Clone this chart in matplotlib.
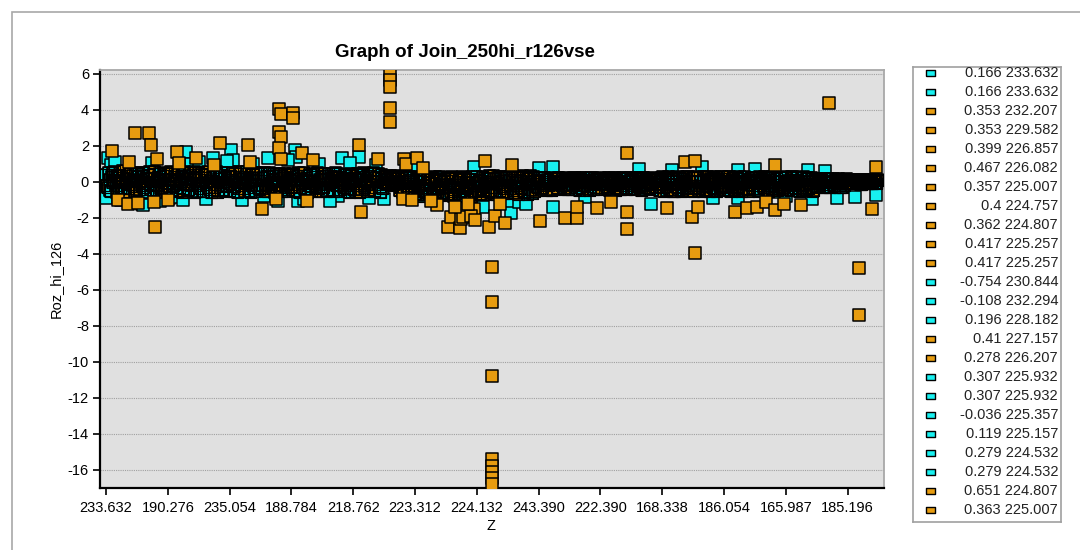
import numpy as np
import matplotlib.pyplot as plt
from matplotlib.patches import Rectangle

plt.rcParams['font.family'] = ['Liberation Sans', 'DejaVu Sans']
plt.rcParams['axes.unicode_minus'] = False

title = 'Graph of Join_250hi_r126vse'
x_label = 'Z'
y_label = 'Roz_hi_126'

# Z of every 80th record, used as x tick labels
tick_step = 80
z_ticks = ['233.632', '190.276', '235.054', '188.784', '218.762', '223.312', '224.132',
           '243.390', '222.390', '168.338', '186.054', '165.987', '185.196']

# dense band of records: even record numbers ...
cloud_even = [
    0.42, -0.31, 0.15, -0.52, 0.55, 0.08, -0.18, 0.37, -0.44, 0.26, -0.05, 0.61, -0.36, 0.19, -0.58, 0.47, -0.12, 0.33, -0.27, 0.02,
    -0.49, 0.51, 0.11, -0.22, 0.38, -0.57, 0.24, -0.08, 0.58, -0.39, 0.05, 0.44, -0.15, -0.53, 0.29, 0.13, -0.33, 0.52, -0.02, -0.46,
    0.35, -0.25, 0.56, -0.41, 0.09, 0.21, -0.55, 0.46, -0.11, 0.31, -0.37, 0.6, 0.01, -0.48, 0.18, -0.2, 0.41, -0.6, 0.27, -0.07,
    0.5, -0.34, 0.14, -0.51, 0.39, -0.14, 0.57, -0.43, 0.06, 0.28, -0.29, 0.45, -0.56, 0.17, -0.03, 0.53, -0.4, 0.23, -0.19, 0.36,
    -0.47, 0.12, 0.55, -0.26, 0.32, -0.58, 0.03, 0.48, -0.35, 0.2, -0.1, 0.59, -0.45, 0.25, -0.16, 0.4, -0.54, 0.1, 0.5, -0.3,
    0.44, -0.21, 0.07, -0.5, 0.3, -0.38, 0.52, -0.06, 0.19, -0.57, 0.37, -0.13, 0.49, -0.42, 0.02, 0.26, -0.3, 0.41, -0.52, 0.13,
    -0.24, 0.47, -0.45, 0.09, 0.33, -0.56, 0.21, -0.09, 0.5, -0.36, 0.15, -0.2, 0.43, -0.48, 0.04, 0.28, -0.32, 0.51, -0.14, -0.53,
    0.38, -0.27, 0.12, -0.47, 0.46, -0.02, 0.24, -0.54, 0.31, -0.16, 0.49, -0.4, 0.06, 0.2, -0.33, 0.42, -0.51, 0.1, -0.08, 0.34,
    -0.44, 0.27, -0.19, 0.48, -0.58, 0.16, 0.39, -0.3, 0.01, 0.45, -0.41, 0.22, -0.12, 0.5, -0.5, 0.08, 0.32, -0.25, 0.43, -0.36,
    0.3, -0.1, 0.18, -0.15, 0.36, 0.05, -0.12, 0.26, 0.1, -0.05, -0.45, 0.22, -0.6, 0.05, 0.3, -0.35, -0.1, 0.15, -0.55, 0.28,
    -0.62, 0.2, -0.35, 0.05, -0.78, 0.28, -0.2, -0.5, 0.12, -0.7, -0.05, 0.25, -0.42, -0.8, 0.1, -0.28, 0.3, -0.58, -0.12, 0.18,
    -0.74, 0.22, -0.3, -0.55, 0.08, -0.8, 0.27, -0.15, -0.65, 0.15, -0.45, 0.3, -0.78, -0.02, -0.36, 0.2, -0.6, 0.04, -0.22, -0.7,
    0.32, -0.52, 0.1, -0.25, -0.68, 0.25, -0.08, -0.45, 0.35, -0.6, 0.02, -0.32, 0.18, -0.7, -0.15, 0.28, -0.5, 0.06, -0.38, 0.22,
    -0.62, 0.15, -0.2, 0.33, -0.48, -0.05, 0.24, -0.7, 0.08, -0.34, 0.3, -0.58, -0.12, 0.2, -0.42, 0.35, -0.66, 0.0, -0.26, 0.12,
    0.22, -0.35, 0.05, -0.18, 0.25, -0.45, 0.12, -0.08, 0.2, -0.4, -0.02, 0.18, -0.28, 0.24, -0.15, 0.0, -0.42, 0.15, -0.22, 0.08,
    -0.3, 0.2, -0.12, 0.25, -0.44, 0.06, -0.2, 0.16, -0.36, 0.24, -0.04, -0.26, 0.1, -0.45, 0.22, -0.1, 0.02, -0.33, 0.18, -0.16,
    0.14, -0.4, 0.24, -0.06, -0.25, 0.2, -0.45, 0.08, -0.15, 0.25, -0.32, 0.0, 0.17, -0.42, -0.1, 0.22, -0.28, 0.1, -0.38, 0.04,
    -0.22, 0.25, -0.44, 0.05, 0.18, -0.3, -0.05, 0.23, -0.4, 0.12, -0.14, 0.2, -0.35, 0.0, 0.24, -0.26, -0.08, 0.15, -0.45, 0.1,
    0.28, -0.5, 0.05, -0.24, 0.3, -0.4, -0.1, 0.18, -0.55, 0.1, -0.3, 0.25, -0.15, -0.48, 0.2, -0.02, -0.36, 0.3, -0.2, 0.02,
    -0.52, 0.22, -0.18, 0.3, -0.38, 0.0, -0.55, 0.15, -0.26, 0.28, -0.45, 0.08, -0.1, 0.24, -0.34, -0.5, 0.12, -0.2, 0.3, -0.42,
    0.18, -0.3, 0.28, -0.48, 0.02, -0.15, 0.25, -0.4, 0.1, -0.25, 0.3, -0.5, -0.05, 0.2, -0.35, 0.12, -0.44, 0.05, -0.2, 0.26,
    -0.38, 0.15, -0.5, 0.28, -0.1, 0.05, -0.3, 0.22, -0.45, 0.12, -0.22, 0.3, -0.48, 0.0, 0.18, -0.35, 0.25, -0.12, -0.42, 0.08,
    0.24, -0.28, 0.1, -0.45, 0.3, -0.15, -0.38, 0.15, 0.02, -0.5, 0.22, -0.22, 0.06, -0.4, 0.27, -0.08, -0.32, 0.18, -0.46, 0.12,
    -0.25, 0.15, -0.05, 0.2, -0.3, 0.05, -0.15, 0.18, -0.28, 0.1, -0.02, -0.22, 0.16, -0.1, 0.2, -0.3, 0.0, 0.12, -0.18, 0.06,
    0.1, -0.08, 0.14, 0.0, -0.1, 0.08, 0.15, -0.05, 0.04, -0.12, 0.12, 0.02, -0.06, 0.1, -0.02, 0.14, -0.08, 0.06, 0.0, 0.1,
]

# ... and odd record numbers
cloud_odd = [
    -0.2, 0.5, -0.45, 0.3, -0.05, 0.58, -0.6, 0.12, 0.4, -0.28, 0.22, -0.5, 0.0, 0.36, -0.38, 0.55, -0.15, 0.07, -0.55, 0.45,
    0.3, -0.42, 0.02, 0.55, -0.3, 0.18, -0.6, 0.4, -0.12, 0.26, -0.48, 0.6, -0.22, 0.1, 0.48, -0.36, 0.2, -0.56, 0.34, -0.06,
    -0.5, 0.15, 0.44, -0.18, 0.28, -0.45, 0.55, -0.3, 0.04, -0.58, 0.38, -0.08, 0.22, -0.4, 0.5, -0.15, 0.12, 0.58, -0.52, 0.3,
    -0.2, 0.4, -0.55, 0.25, -0.02, 0.48, -0.32, 0.1, -0.6, 0.35, -0.12, 0.56, -0.45, 0.2, 0.42, -0.26, 0.05, -0.5, 0.3, -0.1,
    0.35, -0.15, -0.52, 0.45, 0.0, -0.35, 0.58, -0.22, 0.18, -0.5, 0.3, -0.05, 0.44, -0.6, 0.12, -0.3, 0.52, -0.18, 0.24, -0.42,
    -0.35, 0.25, 0.5, -0.12, -0.55, 0.35, -0.25, 0.15, 0.45, -0.45, 0.05, -0.2, 0.38, -0.52, 0.22, 0.48, -0.08, -0.4, 0.3, -0.28,
    0.4, -0.15, 0.2, -0.5, 0.52, -0.3, 0.0, 0.35, -0.42, 0.25, -0.58, 0.1, -0.25, 0.45, -0.1, -0.55, 0.3, -0.35, 0.15, 0.48,
    -0.3, 0.45, -0.55, 0.2, -0.12, 0.35, -0.4, 0.05, 0.5, -0.22, 0.28, -0.5, 0.15, -0.05, 0.4, -0.35, 0.22, -0.58, 0.48, -0.18,
    0.2, -0.52, 0.42, -0.08, 0.3, -0.4, 0.5, -0.2, 0.12, -0.55, 0.35, -0.3, 0.05, -0.45, 0.25, -0.15, 0.45, -0.58, 0.18, 0.0,
    0.15, 0.35, -0.05, 0.25, -0.18, 0.3, 0.0, -0.1, 0.38, 0.2, -0.3, 0.1, -0.5, 0.25, -0.2, -0.6, 0.3, -0.4, 0.0, -0.25,
    0.1, -0.5, 0.25, -0.72, -0.15, 0.3, -0.6, -0.3, 0.0, -0.45, 0.2, -0.75, -0.1, 0.28, -0.55, -0.35, 0.15, -0.68, 0.05, -0.25,
    0.1, -0.62, -0.1, 0.28, -0.4, -0.7, 0.18, -0.25, -0.5, 0.0, -0.78, 0.24, -0.32, -0.58, 0.12, -0.2, -0.8, 0.3, -0.45, -0.05,
    -0.2, 0.15, -0.62, 0.3, -0.4, -0.1, 0.2, -0.55, 0.05, -0.3, 0.34, -0.68, -0.05, 0.25, -0.45, 0.1, -0.25, -0.62, 0.3, -0.12,
    0.25, -0.35, 0.05, -0.6, 0.3, -0.18, -0.45, 0.15, -0.28, 0.34, -0.52, 0.02, -0.7, 0.22, -0.1, -0.4, 0.28, -0.55, 0.08, -0.32,
    -0.1, 0.15, -0.3, 0.25, -0.4, 0.05, -0.22, 0.2, -0.45, 0.1, -0.12, 0.24, -0.35, 0.02, -0.2, 0.22, -0.3, 0.06, -0.44, 0.18,
    0.12, -0.4, 0.22, -0.05, -0.3, 0.18, -0.45, 0.02, 0.25, -0.2, 0.1, -0.38, 0.15, -0.14, 0.24, -0.42, -0.02, 0.2, -0.28, 0.05,
    -0.3, 0.1, -0.15, 0.2, -0.38, 0.25, 0.0, -0.22, 0.12, -0.45, 0.18, -0.08, -0.35, 0.24, -0.18, 0.04, -0.44, 0.2, -0.1, 0.25,
    0.15, -0.38, 0.22, -0.12, -0.25, 0.08, -0.45, 0.25, -0.2, 0.02, -0.32, 0.18, -0.1, -0.42, 0.12, 0.2, -0.3, 0.05, -0.16, 0.24,
    -0.3, 0.2, -0.45, 0.12, -0.15, 0.25, -0.52, 0.0, -0.25, 0.3, -0.4, 0.08, -0.55, 0.2, -0.1, 0.28, -0.45, 0.1, -0.3, 0.22,
    0.1, -0.3, 0.25, -0.48, 0.05, -0.2, 0.3, -0.4, 0.15, -0.1, -0.55, 0.2, -0.32, 0.02, 0.28, -0.45, -0.05, 0.18, -0.25, 0.06,
    -0.4, 0.1, -0.2, 0.3, -0.5, 0.15, -0.3, 0.05, 0.25, -0.45, -0.1, 0.2, -0.35, 0.28, -0.15, -0.5, 0.1, 0.22, -0.38, -0.05,
    0.25, -0.2, 0.08, -0.45, 0.2, -0.32, 0.3, -0.05, -0.5, 0.15, -0.38, 0.05, 0.26, -0.25, -0.45, 0.1, -0.15, 0.3, -0.3, 0.0,
    -0.4, 0.05, -0.2, 0.28, -0.48, 0.12, -0.1, 0.25, -0.3, 0.08, -0.45, 0.3, -0.15, 0.18, -0.35, 0.0, 0.22, -0.5, 0.1, -0.25,
    0.1, -0.2, 0.2, -0.32, 0.02, -0.12, 0.18, -0.25, 0.08, -0.05, 0.2, -0.3, 0.0, 0.15, -0.22, 0.05, -0.28, 0.12, -0.08, 0.18,
    -0.05, 0.12, -0.1, 0.06, 0.15, -0.08, 0.02, 0.1, -0.12, 0.14, -0.04, 0.08, 0.12, -0.1, 0.04, -0.06, 0.15, 0.0, -0.08, 0.12,
]

# class of each band record: c = cyan, o = orange
colors_even = ''.join("""
cocco ococc oocoo ccoco
occoc coocc ococo cocoo
coocc ococo ccooc occoc
ococo coocc ocooc cocco
cocoo ccoco occoc ocooc
occoc ocooc coocc ococo
coooc cocoo cocco oocco
ococc oocoo cocoo ccooc
cocoo coocc ococo coocc
oocoo coocc oocoo ocooc
ocooc oocoo cooco ocooc
oocoo cocoo occoo cooco
cooco ococo ocooc cocoo
ocooc coocc ooccc occoc
coocc ococo ccooc coocc
occoc cocco ocooc coccc
cocoo cocco ocooc cocco
occoc cocco coocc ococo
cooco ocooc coocc ocooc
oocoo cocoo cooco ocooc
cocoo cooco occoo cocoo
ocooc coooc ocooc coocc
cocoo ccooc occoc cocoo
ccocc ococc ocooc cocco
cocco cocco ccocc ococc
""".split())

colors_odd = ''.join("""
occoc cocco ococc oocoo
cooco occoc coocc ococo
ococc oocoo cocco ococo
coocc ococo ocooc cocoo
occoc cocoo ccoco oocco
cocoo ccoco occoc ocooc
occoc ococo coocc oocoo
cocco ccooc ocooc cocoo
occoc ococo ccooc oocco
cooco oocoo coooc ocooc
oocoo coooc ocooo cooco
ocooc oocoo coocc ooooc
oocco cooco ocooc oocoo
cocco occoo cocoo coocc
occoc cocco coocc ococo
coocc ococo occoc ccocc
occoc coocc ococo cocco
coocc ococo ccooc coocc
occoc ooccc ocooc cocco
cocoo coocc oocoo cooco
occoc oocoo coocc ococo
cocco occoo cocco oocoo
occoc cocco ocooc cocoo
cocco cocoo ccocc ococc
ccocc ococc cocco cocco
""".split())

# records standing out of the band (record number, value)
cyan_idx = [2, 6, 0, 20, 46, 48, 82, 88, 104, 110, 138, 162, 164, 210, 204, 244, 246, 248,
            306, 328, 300, 476, 488, 520, 524, 534, 544, 578, 578,
            706, 732, 772, 786, 818, 818, 864, 908, 914, 946, 970, 998, 996,
            12, 36, 60, 70, 100, 120, 130, 156, 176, 190, 222, 236, 256, 276, 290,
            316, 340, 350, 360, 400, 560, 620, 690, 840, 880, 930]
cyan_y = [1.33, 0.95, -0.9, -1.0, -1.2, -1.28, -0.9, -0.85, 1.67, 1.0, 1.33, 1.8, 1.2, 1.33, -0.8, 1.8, 1.4, -1.05,
          1.33, 1.4, -0.8, 0.85, -1.4, -1.1, -1.7, -1.1, -1.25, -1.4, 0.85,
          -1.2, 0.67, 0.85, -0.9, 0.65, -0.9, -0.55, 0.65, -0.95, -0.9, -0.85, 0.0, -0.7,
          1.1, -0.95, 1.05, -1.05, -1.0, 1.1, -0.95, 1.15, -1.0, 1.0, -1.05, 1.2, -0.95, 1.0, -1.05,
          1.05, -0.9, 0.95, -0.95, 0.9, 0.75, -0.85, 0.7, 0.7, -0.8, 0.6]

orange_idx = [8, 30, 38, 16, 28, 42, 56, 58, 62, 64, 66, 92, 94, 116, 80, 148, 140, 184, 186, 202,
              224, 226, 224, 226, 224, 226, 220, 242, 242, 254, 260, 268, 328, 330, 352,
              368, 368, 368, 368, 368, 386, 388, 402, 384, 396, 428, 420, 410,
              442, 446, 458, 460, 462, 476, 472, 468, 452, 490, 478, 496, 504, 516, 526, 510,
              500, 500, 500, 500, 500, 500, 500, 500,
              562, 594, 610, 610, 636, 654, 674, 674, 674, 726, 750, 762, 758, 766, 762,
              814, 830, 842, 854, 866, 866, 878, 900, 936, 974, 974, 992, 996]
orange_y = [1.72, 1.1, 2.72, -1.0, -1.25, -1.15, 2.7, 2.05, -1.1, -2.5, 1.3, 1.67, 1.05, 1.35, -1.0, 2.15, 0.95, 2.05, 1.1, -1.5,
            4.05, 3.8, 2.8, 2.5, 1.9, 1.3, -0.95, 3.85, 3.55, 1.6, -1.05, 1.2, 2.05, -1.65, 1.3,
            5.95, 5.67, 5.28, 4.11, 3.33, 1.3, 1.0, 1.35, -0.95, -1.0, -1.3, -1.05, 0.75,
            -2.5, -1.95, -2.55, -2.05, -1.95, -1.5, -1.9, -1.2, -1.4, 1.15, -2.1, -2.5, -1.9, -2.3, 0.95, -1.2,
            -4.72, -6.67, -10.78, -15.4, -15.8, -16.1, -16.45, -16.8,
            -2.15, -2.0, -2.0, -1.4, -1.45, -1.1, 1.6, -1.65, -2.6, -1.45, 1.1, 1.15, -1.95, -1.4, -3.95,
            -1.65, -1.45, -1.4, -1.1, 0.95, -1.55, -1.25, -1.3, 4.4, -4.78, -7.39, -1.5, 0.85]

# first records of the layer as listed in the legend
legend_values = ['0.166', '0.166', '0.353', '0.353', '0.399', '0.467', '0.357', '0.4', '0.362', '0.417',
                 '0.417', '-0.754', '-0.108', '0.196', '0.41', '0.278', '0.307', '0.307', '-0.036', '0.119',
                 '0.279', '0.279', '0.651', '0.363']
legend_z = ['233.632', '233.632', '232.207', '229.582', '226.857', '226.082', '225.007', '224.757', '224.807', '225.257',
            '225.257', '230.844', '232.294', '228.182', '227.157', '226.207', '225.932', '225.932', '225.357', '225.157',
            '224.532', '224.532', '224.807', '225.007']
legend_colors = 'ccoooooooooccco' + 'occccccoo'

CYAN = '#18f0f0'
ORANGE = '#e79c10'
col = {'c': CYAN, 'o': ORANGE}

W, H = 1080, 550
fig = plt.figure(figsize=(W / 100, H / 100), dpi=100)
fig.add_artist(Rectangle((12 / W, -0.1), 1.2, 1.1 - 12 / H, transform=fig.transFigure,
                         fill=False, edgecolor='#a8a8a8', lw=1.2))

ax = fig.add_axes([100 / W, 1 - 488 / H, 784 / W, 418 / H])
ax.set_facecolor('#e0e0e0')

# cyan fringe first, then the band on top of it
ax.scatter(cyan_idx, cyan_y, s=64, marker='s', c=CYAN, edgecolors='black', linewidths=1.1, zorder=2.5)

# put both halves of the band back into record order so they overlap like the original
rec = np.r_[np.arange(0, 2 * len(cloud_even), 2), np.arange(1, 2 * len(cloud_odd), 2)]
vals = np.r_[cloud_even, cloud_odd]
cls = list(colors_even) + list(colors_odd)
order = np.argsort(rec)
ax.scatter(rec[order], vals[order], s=64, marker='s', c=[col[cls[i]] for i in order],
           edgecolors='black', linewidths=1.2, zorder=3)
# so many outlines pile up in the original that the band turns almost black
ax.scatter(rec, vals, s=64, marker='s', facecolors='none', edgecolors='black',
           linewidths=0.85, zorder=3.5)
ax.scatter(orange_idx, orange_y, s=64, marker='s', c=ORANGE, edgecolors='black', linewidths=1.1, zorder=5)

ax.set_xlim(-7.8, 1007)
ax.set_ylim(-17.0, 6.22)
ax.set_xticks(np.arange(len(z_ticks)) * tick_step)
ax.set_xticklabels(z_ticks)
ax.set_yticks(np.arange(-16, 7, 2))
ax.tick_params(axis='both', labelsize=10.5, length=5, width=1.2, colors='black', direction='out')
ax.tick_params(axis='x', pad=4)
ax.tick_params(axis='y', pad=3)
ax.grid(axis='y', color='#a0a0a0', linestyle=(0, (1, 1)), linewidth=0.8, zorder=1)
ax.set_axisbelow(True)
for side in ['left', 'bottom']:
    ax.spines[side].set_color('black')
    ax.spines[side].set_linewidth(1.6)
for side in ['top', 'right']:
    ax.spines[side].set_color('#a8a8a8')
    ax.spines[side].set_linewidth(1.3)

ax.set_xlabel(x_label, fontsize=10.5)
ax.xaxis.set_label_coords(0.4987, -0.074)
ax.set_ylabel(y_label, fontsize=10.5)
ax.yaxis.set_label_coords(-0.047, 0.5)

fig.text(465 / W, 1 - 57 / H, title, ha='center', va='baseline', fontsize=13.5, fontweight='bold')

# legend box
lg = fig.add_axes([913 / W, 1 - 522 / H, 148 / W, 455 / H])
lg.set_xlim(0, 1)
lg.set_ylim(23.63, -0.32)
lg.set_xticks([])
lg.set_yticks([])
for sp in lg.spines.values():
    sp.set_color('#a0a0a0')
    sp.set_linewidth(1.2)
rect_marker = [(-1, -0.75), (1, -0.75), (1, 0.75), (-1, 0.75), (-1, -0.75)]
rows = np.arange(len(legend_values))
lg.scatter(np.full(len(rows), 0.12), rows, s=42, marker=rect_marker,
           c=[col[k] for k in legend_colors], edgecolors='black', linewidths=1.0)
for i, (v, z) in enumerate(zip(legend_values, legend_z)):
    lg.text(0.98, i, f'{v} {z}', ha='right', va='center', fontsize=10.5, color='#222222')

fig.savefig('out.png', dpi=100)
